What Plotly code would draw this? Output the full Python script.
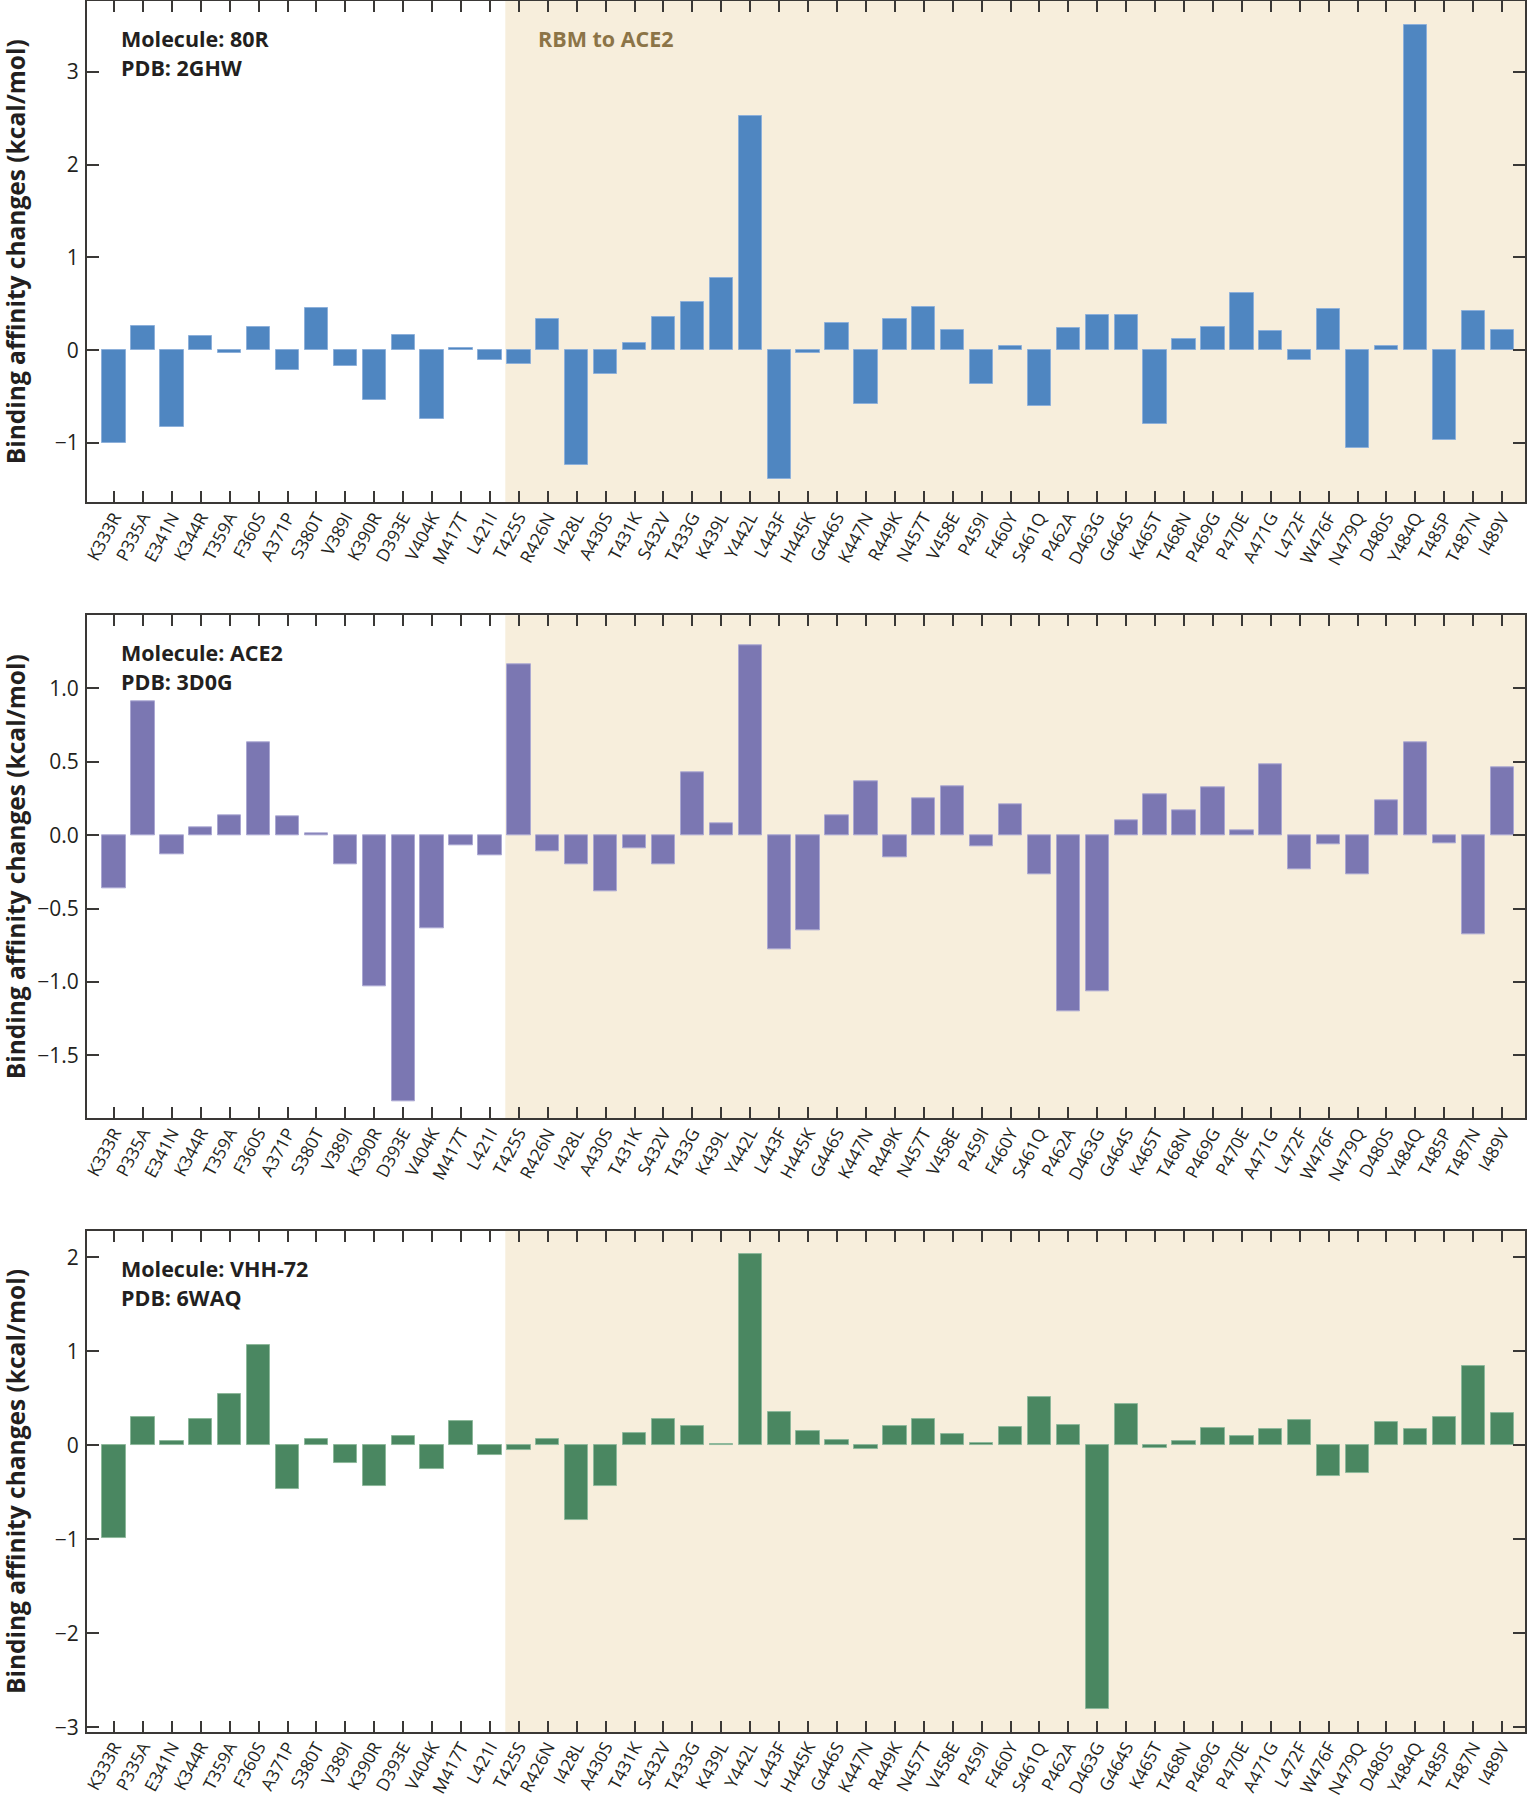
import plotly.graph_objects as go

mutations = ["K333R", "P335A", "E341N", "K344R", "T359A", "F360S", "A371P", "S380T",
             "V389I", "K390R", "D393E", "V404K", "M417T", "L421I", "T425S", "R426N",
             "I428L", "A430S", "T431K", "S432V", "T433G", "K439L", "Y442L", "L443F",
             "H445K", "G446S", "K447N", "R449K", "N457T", "V458E", "P459I", "F460Y",
             "S461Q", "P462A", "D463G", "G464S", "K465T", "T468N", "P469G", "P470E",
             "A471G", "L472F", "W476F", "N479Q", "D480S", "Y484Q", "T485P", "T487N",
             "I489V"]

ddg_80R = [-1.00, 0.26, -0.83, 0.15, -0.025, 0.255, -0.21, 0.45, -0.17, -0.54, 0.165,
           -0.745, 0.02, -0.10, -0.145, 0.34, -1.24, -0.26, 0.074, 0.354, 0.52, 0.78,
           2.527, -1.39, -0.025, 0.29, -0.58, 0.34, 0.47, 0.22, -0.36, 0.05, -0.60,
           0.235, 0.375, 0.375, -0.79, 0.12, 0.247, 0.617, 0.206, -0.11, 0.44, -1.05,
           0.05, 3.506, -0.97, 0.428, 0.218]

ddg_ACE2 = [-0.362, 0.909, -0.13, 0.055, 0.138, 0.635, 0.128, 0.01, -0.195, -1.029,
            -1.815, -0.633, -0.068, -0.14, 1.161, -0.107, -0.195, -0.38, -0.089, -0.195,
            0.432, 0.078, 1.294, -0.78, -0.648, 0.135, 0.37, -0.151, 0.253, 0.333,
            -0.078, 0.208, -0.263, -1.20, -1.06, 0.10, 0.276, 0.172, 0.328, 0.031,
            0.484, -0.229, -0.0625, -0.268, 0.237, 0.63, -0.055, -0.677, 0.466]

ddg_VHH72 = [-0.988, 0.30, 0.044, 0.28, 0.54, 1.067, -0.468, 0.071, -0.19, -0.43, 0.095,
             -0.25, 0.254, -0.107, -0.05, 0.071, -0.80, -0.437, 0.127, 0.28, 0.206, 0.016,
             2.03, 0.353, 0.15, 0.052, -0.044, 0.20, 0.274, 0.119, 0.02, 0.19, 0.512,
             0.21, -2.806, 0.437, -0.032, 0.04, 0.18, 0.103, 0.171, 0.266, -0.325,
             -0.298, 0.242, 0.175, 0.30, 0.845, 0.341]

panels = [
    dict(vals=ddg_80R, color="#4F86C1", line="#8DB0DA", mol="Molecule: 80R", pdb="PDB: 2GHW",
         yrange=[-1.641, 3.764], tickvals=[-1, 0, 1, 2, 3], fmt="d", dom=[0.7103, 1.0]),
    dict(vals=ddg_ACE2, color="#7B77B2", line="#ABA8D2", mol="Molecule: ACE2", pdb="PDB: 3D0G",
         yrange=[-1.927, 1.498], tickvals=[-1.5, -1.0, -0.5, 0.0, 0.5, 1.0], fmt=".1f",
         dom=[0.3546, 0.6451]),
    dict(vals=ddg_VHH72, color="#4A8761", line="#8DB89B", mol="Molecule: VHH-72", pdb="PDB: 6WAQ",
         yrange=[-3.051, 2.279], tickvals=[-3, -2, -1, 0, 1, 2], fmt="d", dom=[0.0, 0.2894]),
]

FONT = "Open Sans"
AX = "#3a3836"
TXT = "#231f20"
xrange_ = [-0.934, 48.79]
rbm_start = 13.53

fig = go.Figure()
shapes = []
annotations = []
for i, p in enumerate(panels):
    n = "" if i == 0 else str(i + 1)
    fig.add_trace(go.Bar(
        x=mutations, y=p["vals"], width=0.806,
        marker=dict(color=p["color"], line=dict(color=p["line"], width=1)),
        xaxis="x" + n, yaxis="y" + n, showlegend=False,
    ))
    common_x = dict(
        type="category", range=xrange_, domain=[0, 1], anchor="y" + n,
        showline=True, linecolor=AX, linewidth=2, mirror="ticks",
        ticks="inside", ticklen=11, tickwidth=1.5, tickcolor=AX,
        tickangle=-62, tickfont=dict(family=FONT, size=17.5, color=TXT),
        ticklabelstandoff=-4, showgrid=False, zeroline=False, automargin=False,
        categoryorder="array", categoryarray=mutations,
    )
    common_y = dict(
        range=p["yrange"], domain=p["dom"], anchor="x" + n,
        showline=True, linecolor=AX, linewidth=2, mirror="ticks",
        ticks="inside", ticklen=12, tickwidth=1.5, tickcolor=AX,
        tickvals=p["tickvals"], tickformat=p["fmt"],
        tickfont=dict(family=FONT, size=21, color=TXT),
        ticklabelstandoff=2, showgrid=False, zeroline=False, automargin=False,
    )
    fig.update_layout(**{"xaxis" + n: common_x, "yaxis" + n: common_y})

    shapes.append(dict(type="rect", xref="x" + n, yref="y" + n + " domain",
                       x0=rbm_start, x1=xrange_[1], y0=0, y1=1,
                       fillcolor="#F7EEDC", line=dict(width=0), layer="below"))

    annotations.append(dict(text=p["mol"], xref="paper", x=0.0225, xanchor="left",
                            yref="y" + n + " domain", y=1, yanchor="middle", yshift=-37,
                            showarrow=False,
                            font=dict(family=FONT, size=21.5, color=TXT, weight="bold")))
    annotations.append(dict(text=p["pdb"], xref="paper", x=0.0225, xanchor="left",
                            yref="y" + n + " domain", y=1, yanchor="middle", yshift=-66,
                            showarrow=False,
                            font=dict(family=FONT, size=21.5, color=TXT, weight="bold")))
    annotations.append(dict(text="Binding affinity changes (kcal/mol)", textangle=-90,
                            xref="paper", x=(15.5 - 87) / 1438, xanchor="center",
                            yref="y" + n + " domain", y=0.5, yanchor="middle",
                            showarrow=False,
                            font=dict(family=FONT, size=24.5, color=TXT, weight="bold")))

annotations.append(dict(text="RBM to ACE2", xref="paper", x=0.3125, xanchor="left",
                        yref="y domain", y=1, yanchor="middle", yshift=-37, showarrow=False,
                        font=dict(family=FONT, size=21.5, color="#8C7447", weight="bold")))

fig.update_layout(
    width=1527, height=1800,
    margin=dict(l=87, r=2, t=1, b=68, autoexpand=False),
    plot_bgcolor="white", paper_bgcolor="white",
    shapes=shapes, annotations=annotations,
    bargap=0,
)

fig.write_html("out.html", config={"displayModeBar": False},
               post_script="document.body.style.margin='0px';document.body.style.overflow='hidden';")
